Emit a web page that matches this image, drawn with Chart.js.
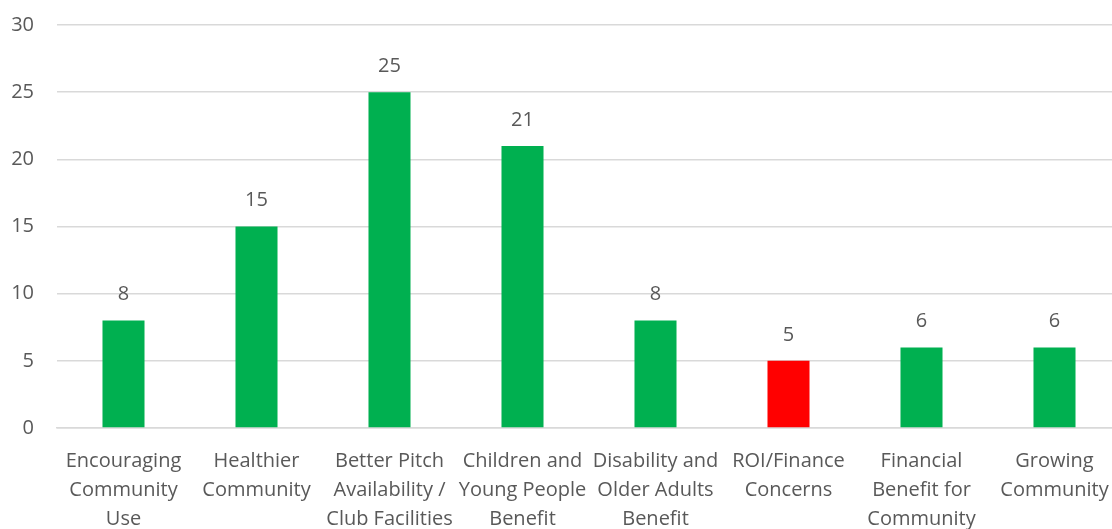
<!DOCTYPE html>
<html>
<head>
<meta charset="utf-8">
<script src="https://cdn.jsdelivr.net/npm/chart.js@4/dist/chart.umd.min.js"></script>
<style>
  html, body { margin: 0; padding: 0; background: #ffffff; overflow: hidden; }
  #wrap { position: absolute; left: 0; top: 0; width: 1121px; height: 529px; }
</style>
</head>
<body>
<div id="wrap"><canvas id="grafico"></canvas></div>
<script>
// categories and values
const categorias = [
  ['Encouraging', 'Community', 'Use'],
  ['Healthier', 'Community'],
  ['Better Pitch', 'Availability /', 'Club Facilities'],
  ['Children and', 'Young People', 'Benefit'],
  ['Disability and', 'Older Adults', 'Benefit'],
  ['ROI/Finance', 'Concerns'],
  ['Financial', 'Benefit for', 'Community'],
  ['Growing', 'Community'],
];
const valores = [8, 15, 25, 21, 8, 5, 6, 6];
const colores = ['#00b050', '#00b050', '#00b050', '#00b050', '#00b050', '#ff0000', '#00b050', '#00b050'];
const yTicks = [0, 5, 10, 15, 20, 25, 30];

const FONT = "'Open Sans', 'Liberation Sans', sans-serif";
const GRIS = '#595959';

// etiquetas de valor encima de cada barra
const etiquetasValor = {
  id: 'etiquetasValor',
  afterDatasetsDraw(chart) {
    const { ctx } = chart;
    const meta = chart.getDatasetMeta(0);
    ctx.save();
    ctx.fillStyle = GRIS;
    ctx.font = `20px ${FONT}`;
    ctx.textAlign = 'center';
    ctx.textBaseline = 'middle';
    meta.data.forEach((bar, i) => {
      ctx.fillText(String(valores[i]), bar.x, bar.y - 26);
    });
    ctx.restore();
  },
};

new Chart(document.getElementById('grafico').getContext('2d'), {
  type: 'bar',
  data: {
    labels: categorias,
    datasets: [
      {
        data: valores,
        backgroundColor: colores,
        borderWidth: 0,
        barPercentage: 0.316,
        categoryPercentage: 1,
      },
    ],
  },
  options: {
    responsive: true,
    maintainAspectRatio: false,
    animation: false,
    layout: { padding: { top: 25, right: 0, left: 0, bottom: 0 } },
    plugins: {
      legend: { display: false },
      tooltip: { enabled: false },
    },
    scales: {
      x: {
        grid: { display: false },
        border: { color: '#d9d9d9', width: 1.5 },
        ticks: {
          color: GRIS,
          font: { family: FONT, size: 20, lineHeight: 1.45 },
          maxRotation: 0,
          autoSkip: false,
          padding: 11,
        },
        afterFit: (scale) => {
          scale.height = 101;
          scale.paddingLeft = 0;
          scale.paddingRight = 0;
        },
      },
      y: {
        min: 0,
        max: 30,
        afterBuildTicks: (scale) => { scale.ticks = yTicks.map((v) => ({ value: v })); },
        grid: { color: '#d9d9d9', lineWidth: 1.5, drawTicks: false },
        border: { display: false },
        ticks: {
          color: GRIS,
          font: { family: FONT, size: 20 },
          padding: 23,
        },
        afterFit: (scale) => {
          scale.width = 57;
          scale.paddingTop = 0;
          scale.paddingBottom = 0;
        },
      },
    },
  },
  plugins: [etiquetasValor],
});
</script>
</body>
</html>
